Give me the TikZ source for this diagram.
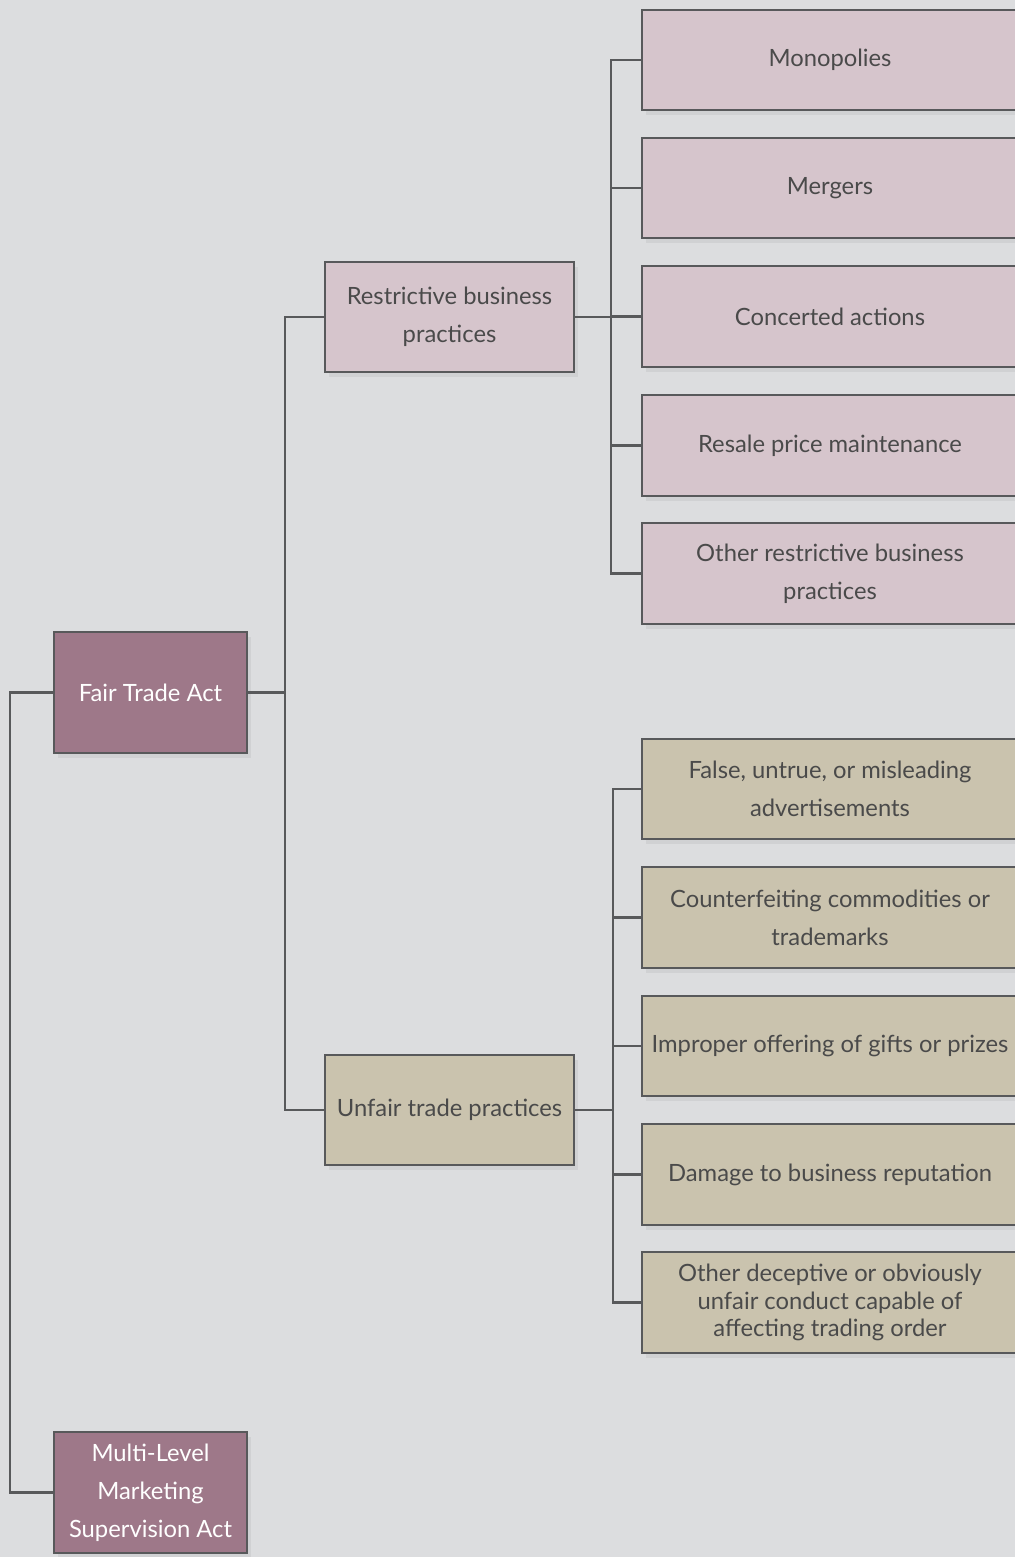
\documentclass[tikz,border=0pt]{standalone}
\usepackage{fontspec}
\setmainfont{Lato}
\usepackage{xcolor}
\usetikzlibrary{shadows}

\definecolor{pagebg}{HTML}{DCDDDF}
\definecolor{actfill}{HTML}{9E7889}
\definecolor{rbpfill}{HTML}{D6C5CC}
\definecolor{utpfill}{HTML}{CAC3AE}
\definecolor{linegray}{HTML}{58595B}
\definecolor{textgray}{HTML}{4A4A4A}

\tikzset{
  box/.style={draw=linegray, line width=1.8pt, align=center, inner sep=2pt,
    font=\fontsize{20.3}{32.4}\selectfont,
    drop shadow={shadow xshift=0.12cm, shadow yshift=-0.15cm, opacity=0.12}},
  actbox/.style={box, fill=actfill, text=white, minimum width=5.79cm, minimum height=3.63cm},
  midbox/.style={box, text=textgray, minimum width=7.47cm, minimum height=3.3cm},
  leafbox/.style={box, text=textgray, minimum width=11.28cm, minimum height=3.02cm},
  link/.style={draw=linegray, line width=1.8pt}
}

\begin{document}
\begin{tikzpicture}[x=0.03cm, y=-0.03cm]
  \path[use as bounding box, clip] (0,0) rectangle (1015,1557);
  \fill[pagebg] (0,0) rectangle (1015,1557);

  \node[actbox] (fta) at (150.5,692.5) {Fair Trade Act};
  \node[actbox] (mlm) at (150.5,1492.5) {Multi-Level\\Marketing\\Supervision Act};

  \node[midbox, fill=rbpfill] (rbp) at (449.5,317) {Restrictive business\\practices};
  \node[midbox, fill=utpfill] (utp) at (449.5,1110) {Unfair trade practices};

  \node[leafbox, fill=rbpfill] (mono) at (830,60) {Monopolies};
  \node[leafbox, fill=rbpfill] (merg) at (830,188) {Mergers};
  \node[leafbox, fill=rbpfill] (conc) at (830,316.5) {Concerted actions};
  \node[leafbox, fill=rbpfill] (resale) at (830,445.5) {Resale price maintenance};
  \node[leafbox, fill=rbpfill] (orbp) at (830,573.5) {Other restrictive business\\practices};

  \node[leafbox, fill=utpfill] (fad) at (830,789) {False, untrue, or misleading\\advertisements};
  \node[leafbox, fill=utpfill] (ccot) at (830,917.5) {Counterfeiting commodities or\\trademarks};
  \node[leafbox, fill=utpfill] (iog) at (830,1046) {Improper offering of gifts or prizes};
  \node[leafbox, fill=utpfill] (dbr) at (830,1174.5) {Damage to business reputation};
  \node[leafbox, fill=utpfill, font=\fontsize{20.3}{23.8}\selectfont] (odc) at (830,1302.5)
    {Other deceptive or obviously\\unfair conduct capable of\\affecting trading order};

  \draw[link] (fta.west) -- ++(-43,0) |- (mlm.west);
  \draw[link] (fta.east) -- ++(37,0) |- (rbp.west);
  \draw[link] (fta.east) -- ++(37,0) |- (utp.west);
  \foreach \n in {mono,merg,conc,resale,orbp}
    \draw[link] (rbp.east) -- ++(36,0) |- (\n.west);
  \foreach \n in {fad,ccot,iog,dbr,odc}
    \draw[link] (utp.east) -- ++(38,0) |- (\n.west);
\end{tikzpicture}
\end{document}
